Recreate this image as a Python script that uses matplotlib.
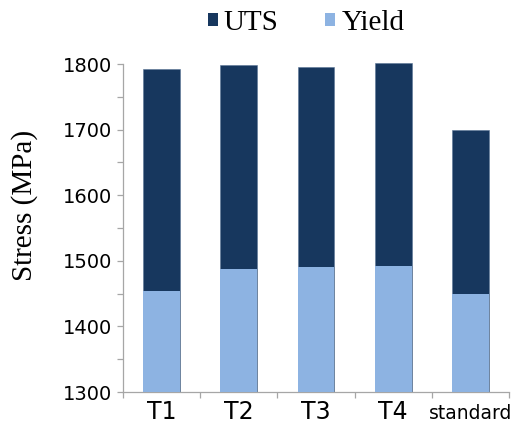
import numpy as np
import matplotlib
matplotlib.use('Agg')
import matplotlib.pyplot as plt
from matplotlib.patches import Patch
from matplotlib.ticker import MultipleLocator, FixedLocator

categories = ['T1', 'T2', 'T3', 'T4', 'standard']
uts = [1792, 1798, 1795, 1801, 1700]
yield_strength = [1454, 1487, 1491, 1492, 1450]

dark = '#17375E'
light = '#8DB3E2'
axis_gray = '#A6A6A6'

fig = plt.figure(figsize=(5.13, 4.24), dpi=100)
ax = fig.add_axes([123 / 513, 1 - 392 / 424, 386 / 513, 328 / 424])

x = np.arange(len(categories))
base = 1300
ax.bar(x, np.array(uts) - base, bottom=base, width=0.475, color=dark,
       edgecolor='#5a7596', linewidth=0.4, clip_on=False, zorder=2)
ax.bar(x, np.array(yield_strength) - base, bottom=base, width=0.475,
       color=light, linewidth=0, zorder=3)

ax.set_xlim(-0.5, len(categories) - 0.5)
ax.set_ylim(1300, 1800)

for side in ['top', 'right']:
    ax.spines[side].set_visible(False)
for side in ['left', 'bottom']:
    ax.spines[side].set_color(axis_gray)
    ax.spines[side].set_linewidth(0.9)

ax.yaxis.set_major_locator(MultipleLocator(100))
ax.yaxis.set_minor_locator(MultipleLocator(50))
ax.tick_params(axis='y', which='both', direction='out', length=4, width=0.9,
               color=axis_gray, labelsize=14, pad=4)

ax.set_xticks(x)
ax.set_xticklabels(categories)
ax.xaxis.set_minor_locator(FixedLocator(np.arange(-0.5, len(categories), 1.0)))
ax.tick_params(axis='x', which='minor', direction='out', length=4, width=0.9,
               color=axis_gray)
ax.tick_params(axis='x', which='major', length=0, pad=19.5)
for tick, name in zip(ax.xaxis.get_major_ticks(), categories):
    tick.label1.set_fontsize(13.5 if name == 'standard' else 17)
    tick.label1.set_verticalalignment('baseline')

fig.text(25 / 513, 1 - 205 / 424, 'Stress (MPa)', rotation=90, ha='center',
         va='center', fontsize=21, family='Liberation Serif')

handles = [Patch(facecolor=dark, edgecolor='none'),
           Patch(facecolor=light, edgecolor='none')]
fig.legend(handles, ['UTS', 'Yield'], loc='center', ncol=2,
           bbox_to_anchor=(306 / 513, 1 - 23 / 424), frameon=False,
           prop={'family': 'Liberation Serif', 'size': 21},
           handlelength=0.35, handleheight=0.35, handletextpad=0.2,
           columnspacing=1.6, borderpad=0)

fig.savefig('out.png', dpi=100)
